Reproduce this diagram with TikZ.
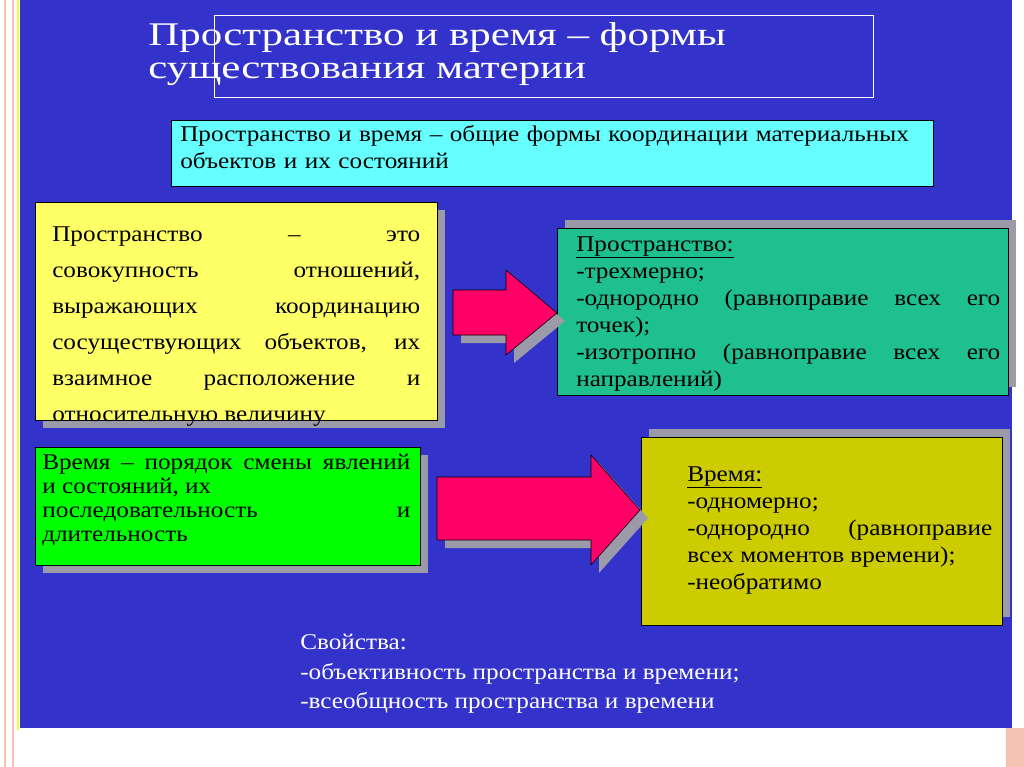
\documentclass[tikz,border=0pt]{standalone}
\usepackage{fontspec}
\setmainfont{Liberation Serif}[FakeStretch=1.12]
\newfontfamily\titlefont{Liberation Serif}[FakeStretch=1.3]
\usetikzlibrary{positioning}
\definecolor{panel}{HTML}{3333CC}
\definecolor{cyanbox}{HTML}{66FFFF}
\definecolor{yelbox}{HTML}{FFFF66}
\definecolor{tealbox}{HTML}{1FC08F}
\definecolor{greenbox}{HTML}{00FF00}
\definecolor{olivebox}{HTML}{CCCC00}
\definecolor{arrowred}{HTML}{FF0066}
\definecolor{shadowgray}{HTML}{9A9AA8}
\definecolor{edgepink}{HTML}{F4C2B0}
\begin{document}
\begin{tikzpicture}[x=0.025cm, y=-0.025cm,
  box/.style = {draw=black, thin},
  txt/.style = {anchor=north west, inner sep=0pt, align=justify, font=\fontsize{16}{19.2}\selectfont},
  whitetxt/.style = {anchor=north west, inner sep=0pt, align=left, text=white, font=\fontsize{16}{21}\selectfont}]
	\useasboundingbox (0,0) rectangle (1024,767);
	\fill[white] (0,0) rectangle (1024,767);
	% edge decoration
	\draw[edgepink, line width=2pt] (5,0) -- (5,767);
	\draw[edgepink, line width=1pt] (13,0) -- (13,767);
	\draw[yellow!80, line width=1pt] (18,0) -- (18,730);
	\fill[edgepink] (1006,728) rectangle (1024,767);
	\fill[panel] (20,0) rectangle (1012,728);
	
	% title
	\draw[white, thin] (214,15) rectangle (873,97);
	\node[whitetxt, font=\titlefont\fontsize{23.5}{23.5}\selectfont] (title) at (148,22) {Пространство и время – формы\\существования материи};
	
	% definition
	\draw[box, fill=cyanbox] (171,120) rectangle (933,186);
	\node[txt, text width=745*0.025cm, align=left] (defn) at (180,125) {Пространство и время – общие формы координации материальных\\объектов и их состояний};
	
	% space
	\fill[shadowgray] (43,210) rectangle (445,428);
	\draw[box, fill=yelbox] (35,202) rectangle (437,420);
	\node[txt, text width=368*0.025cm, font=\fontsize{16}{25.6}\selectfont] (space) at (52,226) {Пространство – это\linebreak совокупность отношений,\linebreak выражающих координацию\linebreak сосуществующих объектов, их\linebreak взаимное расположение и\linebreak относительную величину};
	
	\fill[shadowgray] (565,220) rectangle (1016,387);
	\draw[box, fill=tealbox] (557,228) rectangle (1008,395);
	\node[txt, text width=424*0.025cm] (spaceprops) at (576,236) {\underline{Пространство:}\\ -трехмерно;\\ -однородно (равноправие всех его\linebreak точек);\\ -изотропно (равноправие всех его\linebreak направлений)};
	
	% time
	\fill[shadowgray] (43,455) rectangle (428,573);
	\draw[box, fill=greenbox] (35,447) rectangle (420,565);
	\node[txt, text width=368*0.025cm, font=\fontsize{16}{17}\selectfont] (time) at (42,454) {Время – порядок смены явлений\linebreak и состояний, их\\ последовательность и\linebreak длительность};
	
	\fill[shadowgray] (649,429) rectangle (1010,617);
	\draw[box, fill=olivebox] (641,437) rectangle (1002,625);
	\node[txt, text width=305*0.025cm] (timeprops) at (687,466) {\underline{Время:}\\ -одномерно;\\ -однородно (равноправие\linebreak всех моментов времени);\\ -необратимо};
	
	% arrows
	\fill[shadowgray] (461,298) -- (514,298) -- (514,278) -- (565,321) -- (514,363) -- (514,343) -- (461,343) -- cycle;
	\draw[box, fill=arrowred] (453,290) -- (506,290) -- (506,270) -- (557,313) -- (506,355) -- (506,335) -- (453,335) -- cycle;
	\fill[shadowgray] (445,485) -- (599,485) -- (599,463) -- (648,518) -- (599,573) -- (599,548) -- (445,548) -- cycle;
	\draw[box, fill=arrowred] (437,477) -- (591,477) -- (591,455) -- (640,510) -- (591,565) -- (591,540) -- (437,540) -- cycle;
	
	% properties
	\node[whitetxt] (props) at (300,634) {Свойства:\\-объективность пространства и времени;\\-всеобщность пространства и времени};
\end{tikzpicture}
\end{document}
